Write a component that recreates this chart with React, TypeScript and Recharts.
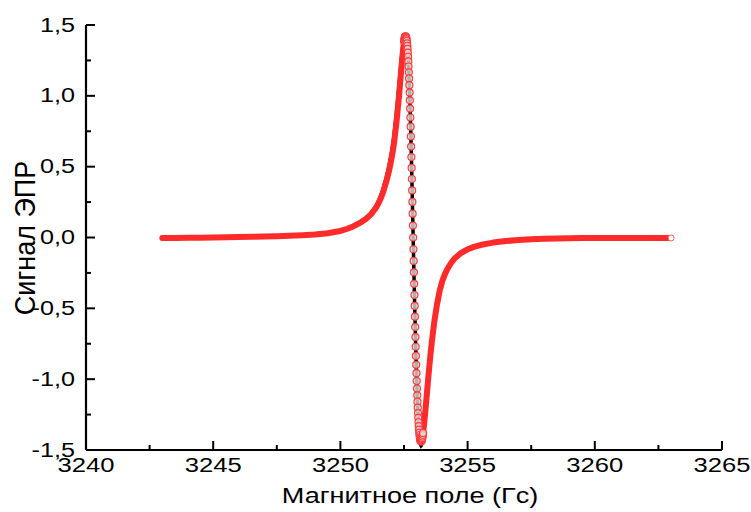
import React from 'react';
import { LineChart, Line, XAxis, YAxis } from 'recharts';

// Magnetic field (G) sample positions
const field: number[] = [
  3243, 3243.5, 3244, 3244.5, 3245, 3245.5, 3246, 3246.5, 3247, 3247.5,
  3248, 3248.5, 3249, 3249.5, 3250, 3250.25, 3250.5, 3250.75, 3251, 3251.2,
  3251.4, 3251.5, 3251.6, 3251.7, 3251.8, 3251.9, 3252, 3252.1, 3252.2, 3252.3,
  3252.4, 3252.45,
  3252.5, 3252.51, 3252.52, 3252.53, 3252.54, 3252.55, 3252.56, 3252.57, 3252.58, 3252.59,
  3252.6, 3252.61, 3252.62, 3252.63, 3252.64, 3252.65, 3252.66, 3252.67, 3252.68, 3252.69,
  3252.7, 3252.71, 3252.72, 3252.73, 3252.74, 3252.75, 3252.76, 3252.77, 3252.78, 3252.79,
  3252.8, 3252.81, 3252.82, 3252.83, 3252.84, 3252.85, 3252.86, 3252.87, 3252.88, 3252.89,
  3252.9, 3252.91, 3252.92, 3252.93, 3252.94, 3252.95, 3252.96, 3252.97, 3252.98, 3252.99,
  3253, 3253.01, 3253.02, 3253.03, 3253.04, 3253.05, 3253.06, 3253.07, 3253.08, 3253.09,
  3253.1, 3253.11, 3253.12, 3253.13, 3253.14, 3253.15, 3253.16, 3253.17, 3253.18, 3253.19,
  3253.2, 3253.21, 3253.22, 3253.23, 3253.24, 3253.25,
  3253.3, 3253.35, 3253.4, 3253.45, 3253.5, 3253.55, 3253.6, 3253.7, 3253.8, 3253.9,
  3254, 3254.1, 3254.2, 3254.35, 3254.5, 3254.75, 3255, 3255.25, 3255.5, 3256,
  3256.5, 3257, 3257.5, 3258, 3258.5, 3259, 3259.5, 3260, 3260.5, 3261,
  3261.5, 3262, 3262.5, 3263,
];

// Experimental EPR signal (black)
const expSignal: number[] = [
  -0.003, -0.002, -0.001, 0.0, 0.002, 0.003, 0.005, 0.007, 0.009, 0.012,
  0.015, 0.019, 0.025, 0.034, 0.05, 0.063, 0.082, 0.106, 0.136, 0.172,
  0.222, 0.258, 0.302, 0.356, 0.42, 0.497, 0.588, 0.71, 0.875, 1.07,
  1.27, 1.35,
  1.405, 1.413, 1.418, 1.42, 1.419, 1.419, 1.42, 1.419, 1.415, 1.408,
  1.399, 1.387, 1.371, 1.353, 1.331, 1.305, 1.276, 1.243, 1.207, 1.166,
  1.123, 1.075, 1.023, 0.968, 0.91, 0.847, 0.782, 0.713, 0.642, 0.568,
  0.491, 0.413, 0.332, 0.251, 0.168, 0.084, 0.0, -0.083, -0.165, -0.246,
  -0.327, -0.406, -0.483, -0.559, -0.632, -0.703, -0.771, -0.836, -0.899, -0.958,
  -1.013, -1.066, -1.114, -1.159, -1.201, -1.239, -1.273, -1.304, -1.332, -1.36,
  -1.385, -1.405, -1.425, -1.44, -1.452, -1.461, -1.467, -1.47, -1.468, -1.46,
  -1.448, -1.435, -1.42, -1.405, -1.39, -1.37,
  -1.26, -1.16, -1.06, -0.96, -0.87, -0.78, -0.7, -0.56, -0.45, -0.362,
  -0.298, -0.252, -0.216, -0.173, -0.141, -0.104, -0.079, -0.062, -0.05, -0.033,
  -0.023, -0.016, -0.011, -0.008, -0.005, -0.004, -0.003, -0.002, -0.002, -0.001,
  -0.001, -0.001, -0.001, 0.0,
];

// Fitted EPR signal (red circles)
const fitSignal: number[] = [
  -0.004, -0.003, -0.002, -0.001, 0.0, 0.001, 0.003, 0.005, 0.007, 0.009,
  0.012, 0.016, 0.021, 0.03, 0.046, 0.06, 0.078, 0.101, 0.13, 0.163,
  0.21, 0.243, 0.283, 0.332, 0.392, 0.462, 0.548, 0.655, 0.805, 0.99,
  1.2, 1.3,
  1.383, 1.394, 1.403, 1.41, 1.415, 1.419, 1.42, 1.419, 1.415, 1.408,
  1.399, 1.387, 1.371, 1.353, 1.331, 1.305, 1.276, 1.243, 1.207, 1.166,
  1.123, 1.075, 1.023, 0.968, 0.91, 0.847, 0.782, 0.713, 0.642, 0.568,
  0.491, 0.413, 0.332, 0.251, 0.168, 0.084, 0.0, -0.083, -0.165, -0.246,
  -0.327, -0.406, -0.483, -0.559, -0.632, -0.703, -0.771, -0.836, -0.899, -0.958,
  -1.013, -1.066, -1.114, -1.159, -1.201, -1.239, -1.273, -1.304, -1.332, -1.356,
  -1.377, -1.394, -1.409, -1.42, -1.429, -1.435, -1.439, -1.44, -1.439, -1.436,
  -1.43, -1.423, -1.415, -1.405, -1.393, -1.38,
  -1.3, -1.205, -1.102, -1.0, -0.902, -0.81, -0.727, -0.584, -0.47, -0.378,
  -0.31, -0.262, -0.224, -0.18, -0.146, -0.108, -0.083, -0.066, -0.053, -0.036,
  -0.025, -0.018, -0.013, -0.009, -0.007, -0.005, -0.004, -0.004, -0.003, -0.003,
  -0.003, -0.003, -0.003, -0.003,
];

const xMajorTicks = [3240, 3245, 3250, 3255, 3260, 3265];
const xMinorTicks = [3242.5, 3247.5, 3252.5, 3257.5, 3262.5];
const yMajorTicks = [-1.5, -1, -0.5, 0, 0.5, 1, 1.5];
const yMinorTicks = [-1.25, -0.75, -0.25, 0.25, 0.75, 1.25];

const xTitle = 'Магнитное поле (Гс)';
const yTitle = 'Сигнал ЭПР';

// steep-region window where the fit circles are drawn individually
const DOT_FROM = 3252.495;
const DOT_TO = 3253.255;
const LINE_GAP_FROM = 3252.585;
const LINE_GAP_TO = 3253.145;

const data = field.map((f, i) => ({
  field: f,
  exp: expSignal[i],
  fitLine: f <= LINE_GAP_FROM || f >= LINE_GAP_TO ? fitSignal[i] : null,
  fitDot: f >= DOT_FROM && f <= DOT_TO ? fitSignal[i] : null,
}));

const FONT = "'Liberation Sans', Arial, sans-serif";
const RED = '#ff2b2b';

const isXMajor = (v: number) => Math.abs(v / 5 - Math.round(v / 5)) < 1e-6;
const isYMajor = (v: number) => Math.abs(v * 2 - Math.round(v * 2)) < 1e-6;
const fmtY = (v: number) => (Math.abs(v) < 1e-9 ? 0 : v).toFixed(1).replace('.', ',');

const XTick = (props: any) => {
  const { x, y, payload } = props;
  const v = payload.value as number;
  const major = isXMajor(v);
  return (
    <g transform={`translate(${x},${y})`}>
      <line x1={0} x2={0} y1={0} y2={major ? -9 : -5} stroke="#000" strokeWidth={2} />
      {major && (
        <text
          transform="translate(0,22) scale(1.22,1)"
          textAnchor="middle"
          fontSize={21}
          fontFamily={FONT}
          fill="#000"
        >
          {String(v)}
        </text>
      )}
    </g>
  );
};

const YTick = (props: any) => {
  const { x, y, payload } = props;
  const v = payload.value as number;
  const major = isYMajor(v);
  return (
    <g transform={`translate(${x},${y})`}>
      <line x1={0} x2={major ? 9 : 5} y1={0} y2={0} stroke="#000" strokeWidth={2} />
      {major && (
        <text
          transform="translate(-11,6.5) scale(1.2,1)"
          textAnchor="end"
          fontSize={21}
          fontFamily={FONT}
          fill="#000"
        >
          {fmtY(v)}
        </text>
      )}
    </g>
  );
};

const renderFitDot = (p: any) => {
  const key = `fd-${p.index}`;
  if (p.cx == null || p.cy == null || p.value == null || Number.isNaN(p.cy)) return <g key={key} />;
  return (
    <circle
      key={key}
      cx={p.cx}
      cy={p.cy}
      r={3.5}
      fill="rgba(228,216,216,0.8)"
      stroke="#ff3a3a"
      strokeWidth={1.2}
    />
  );
};

const renderEndDot = (p: any) => {
  const key = `ed-${p.index}`;
  if (p.index !== field.length - 1 || p.cx == null || p.cy == null) return <g key={key} />;
  return <circle key={key} cx={p.cx} cy={p.cy} r={3} fill="#fff" stroke="#ff6060" strokeWidth={1} />;
};

export default function App() {
  return (
    <div style={{ position: 'absolute', left: 0, top: 0, width: 751, height: 512, background: '#fff' }}>
      <LineChart
        width={751}
        height={512}
        data={data}
        margin={{ top: 25, right: 29, bottom: 0, left: 0 }}
      >
        <XAxis
          dataKey="field"
          type="number"
          domain={[3240, 3265]}
          ticks={[...xMajorTicks, ...xMinorTicks].sort((a, b) => a - b)}
          interval={0}
          height={62}
          tickSize={0}
          tickMargin={0}
          tick={<XTick />}
          tickLine={false}
          axisLine={{ stroke: '#000', strokeWidth: 2.2 }}
        />
        <YAxis
          type="number"
          domain={[-1.5, 1.5]}
          ticks={[...yMajorTicks, ...yMinorTicks].sort((a, b) => a - b)}
          interval={0}
          width={86}
          tickSize={0}
          tickMargin={0}
          tick={<YTick />}
          tickLine={false}
          axisLine={{ stroke: '#000', strokeWidth: 2.2 }}
        />
        <Line
          dataKey="exp"
          type="linear"
          stroke="#000"
          strokeWidth={3.5}
          dot={false}
          isAnimationActive={false}
        />
        <Line
          dataKey="fitLine"
          type="linear"
          stroke={RED}
          strokeWidth={6}
          strokeLinecap="round"
          strokeLinejoin="round"
          dot={renderEndDot}
          connectNulls={false}
          isAnimationActive={false}
        />
        <Line
          dataKey="fitDot"
          type="linear"
          stroke="none"
          dot={renderFitDot}
          connectNulls={false}
          isAnimationActive={false}
        />
      </LineChart>
      <svg
        width={751}
        height={512}
        style={{ position: 'absolute', left: 0, top: 0, pointerEvents: 'none' }}
      >
        <text
          transform="translate(410,503) scale(1.23,1)"
          textAnchor="middle"
          fontSize={22}
          fontFamily={FONT}
          fill="#000"
        >
          {xTitle}
        </text>
        <text
          transform="translate(35,238) scale(1.12,1) rotate(-90)"
          textAnchor="middle"
          fontSize={27}
          fontFamily={FONT}
          fill="#000"
        >
          {yTitle}
        </text>
      </svg>
    </div>
  );
}
